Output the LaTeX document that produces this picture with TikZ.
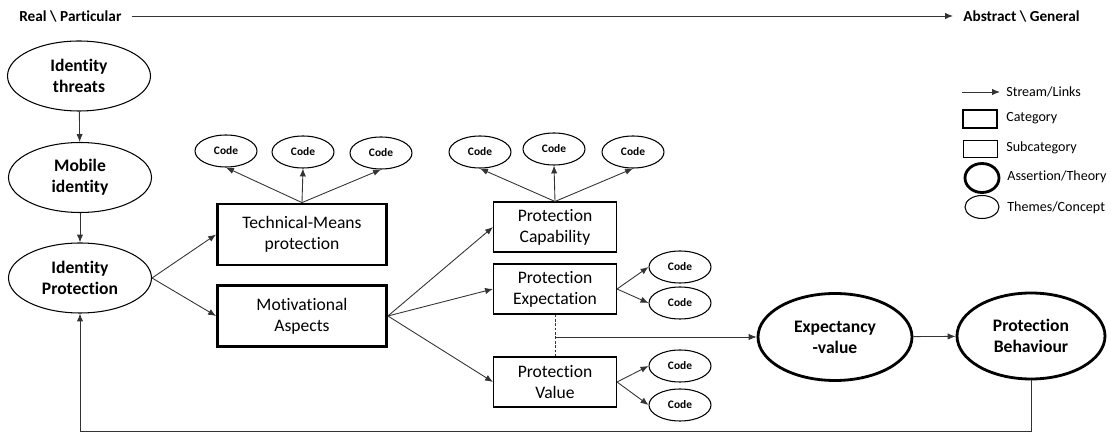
\documentclass[tikz,border=0pt]{standalone}
\usepackage{fontspec}
\setmainfont[Ligatures=CommonOff]{Carlito}
\usetikzlibrary{arrows.meta,shapes.geometric}

\begin{document}
\begin{tikzpicture}[x=1cm,y=1cm,>={Latex[length=4.5pt,width=3.6pt]},
  every node/.append style={font=\fontsize{10}{12}\selectfont},
  link/.style={->,line width=0.5pt,draw=black!80},
  concept/.style={draw,ellipse,line width=0.6pt,align=center,inner sep=0pt,
    font=\fontsize{10}{12}\selectfont\bfseries,minimum width=2.86cm,minimum height=1.4cm},
  theory/.style={draw,ellipse,line width=1.6pt,align=center,inner sep=0pt,
    font=\fontsize{10}{12}\selectfont\bfseries,minimum width=2.96cm,minimum height=1.72cm},
  category/.style={draw,line width=1.6pt,align=center,minimum width=3.38cm,minimum height=1.22cm},
  subcat/.style={draw,line width=0.6pt,align=center,minimum width=2.46cm,minimum height=1cm},
  code/.style={draw,ellipse,line width=0.6pt,inner sep=0pt,
    font=\fontsize{6.5}{8}\selectfont\bfseries,minimum width=1.24cm,minimum height=0.64cm},
  legendtext/.style={anchor=west,inner sep=0pt,font=\fontsize{8}{10}\selectfont}]
  \useasboundingbox (0,0) rectangle (22.22,8.66);

  % scale from real to abstract
  \node[anchor=west,inner sep=0.2cm,font=\fontsize{8.7}{10}\selectfont\bfseries] (real) at (0.18,8.34) {Real \textbackslash{} Particular};
  \node[anchor=west,inner sep=0.2cm,font=\fontsize{8.7}{10}\selectfont\bfseries] (abstract) at (19.06,8.34) {Abstract \textbackslash{} General};
  \draw[link] (real.east) -- (abstract.west);

  % left column
  \node[concept] (threats) at (1.58,7.14) {Identity\\threats};
  \node[concept] (mobile) at (1.60,5.11) {Mobile\\identity};
  \node[concept] (idprot) at (1.60,3.10) {Identity\\Protection};
  \draw[link] (threats) -- (mobile);
  \draw[link] (mobile) -- (idprot);

  % categories
  \node[category] (techmeans) at (6.04,3.97) {Technical-Means\\protection};
  \node[category] (motiv) at (6.04,2.34) {Motivational\\Aspects};
  \draw[link] (idprot.east) -- (techmeans.west);
  \draw[link] (idprot.east) -- (motiv.west);

  \node[code] (tmcodeA) at (4.52,5.64) {Code};
  \node[code] (tmcodeB) at (6.06,5.62) {Code};
  \node[code] (tmcodeC) at (7.62,5.60) {Code};
  \draw[link] (techmeans.north) -- (tmcodeA.south);
  \draw[link] (techmeans.north) -- (tmcodeB.south);
  \draw[link] (techmeans.north) -- (tmcodeC.south);

  % subcategories
  \node[subcat] (capab) at (11.10,4.12) {Protection\\Capability};
  \node[subcat] (expect) at (11.10,2.88) {Protection\\Expectation};
  \node[subcat] (pvalue) at (11.10,1.02) {Protection\\Value};
  \draw[link] (motiv.east) -- (capab.west);
  \draw[link] (motiv.east) -- (expect.west);
  \draw[link] (motiv.east) -- (pvalue.west);

  \node[code] (capcodeA) at (9.60,5.62) {Code};
  \node[code] (capcodeB) at (11.08,5.68) {Code};
  \node[code] (capcodeC) at (12.66,5.62) {Code};
  \draw[link] (capab.north) -- (capcodeA.south);
  \draw[link] (capab.north) -- (capcodeB.south);
  \draw[link] (capab.north) -- (capcodeC.south);

  \node[code] (expcodeA) at (13.60,3.32) {Code};
  \node[code] (expcodeB) at (13.60,2.60) {Code};
  \draw[link] (expect.east) -- (expcodeA.west);
  \draw[link] (expect.east) -- (expcodeB.west);

  \node[code] (valcodeA) at (13.60,1.34) {Code};
  \node[code] (valcodeB) at (13.60,0.56) {Code};
  \draw[link] (pvalue.east) -- (valcodeA.west);
  \draw[link] (pvalue.east) -- (valcodeB.west);

  % theories
  \node[theory,minimum width=3.08cm,minimum height=1.74cm] (expval) at (16.70,1.92) {Expectancy\\-value};
  \node[theory] (behav) at (20.62,1.94) {Protection\\Behaviour};
  \coordinate (junction) at (11.10,1.92);
  \draw[line width=0.5pt,draw=black!80,dash pattern=on 1.5pt off 1pt] (expect.south) -- (pvalue.north);
  \draw[link] (junction) -- (expval.west);
  \draw[link] (expval) -- (behav);

  % feedback loop
  \coordinate (loop) at (1.60,0.04);
  \draw[link] (behav.south) -- (behav.south |- loop) -| (idprot.south);

  % legend
  \coordinate (lgtail) at (19.24,6.82);
  \node[legendtext] (lgstream) at (20.12,6.82) {Stream/Links};
  \draw[link,shorten >=0.12cm] (lgtail) -- (lgstream.west);
  \node[draw,line width=1.6pt,minimum width=0.68cm,minimum height=0.36cm,inner sep=0pt] (lgcatbox) at (19.60,6.28) {};
  \node[legendtext] (lgcat) at (20.12,6.30) {Category};
  \node[draw,line width=0.5pt,minimum width=0.68cm,minimum height=0.34cm,inner sep=0pt] (lgsubbox) at (19.60,5.69) {};
  \node[legendtext] (lgsub) at (20.12,5.70) {Subcategory};
  \node[draw,ellipse,line width=1.6pt,minimum width=0.68cm,minimum height=0.58cm,inner sep=0pt] (lgtheory) at (19.64,5.10) {};
  \node[legendtext] (lgassert) at (20.14,5.12) {Assertion/Theory};
  \node[draw,ellipse,line width=0.6pt,minimum width=0.68cm,minimum height=0.46cm,inner sep=0pt] (lgconcept) at (19.64,4.52) {};
  \node[legendtext] (lgthemes) at (20.14,4.50) {Themes/Concept};
\end{tikzpicture}
\end{document}
